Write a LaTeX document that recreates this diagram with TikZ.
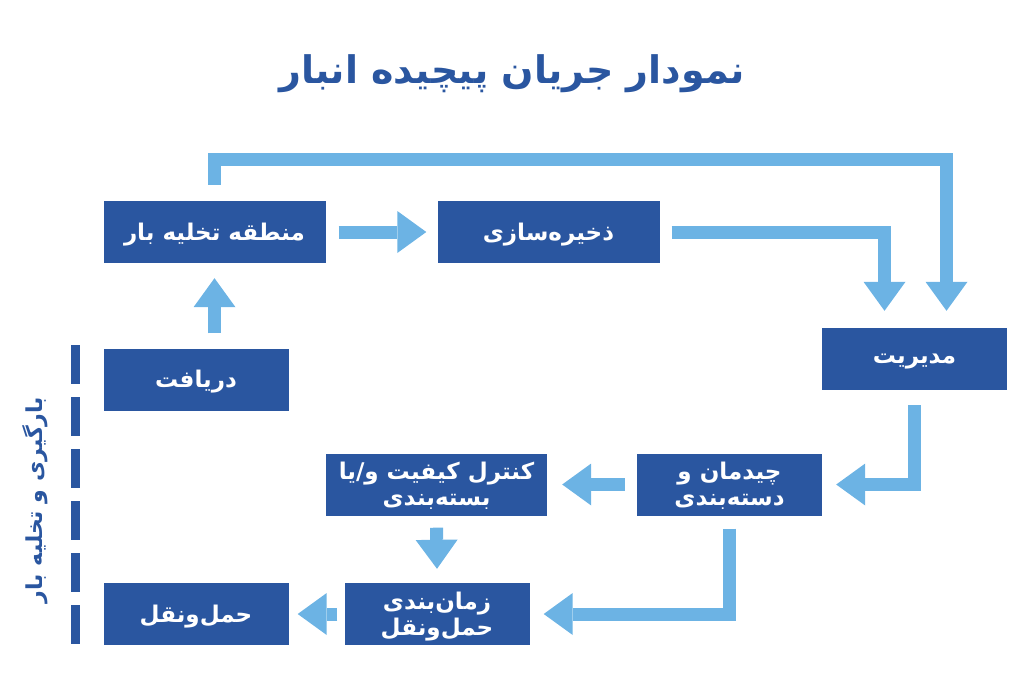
\documentclass[tikz,border=0pt]{standalone}
\usepackage{fontspec}
\newfontfamily\farsi[Script=Arabic]{DejaVu Sans}
\TeXXeTstate=1
\usetikzlibrary{arrows.meta,calc,positioning}
\definecolor{boxblue}{HTML}{2A56A0}
\definecolor{flowblue}{HTML}{6CB3E4}
\tikzset{
  stage/.style={fill=boxblue, text=white, inner sep=0pt, minimum height=62pt,
    font=\farsi\bfseries\fontsize{23}{26}\selectfont, align=center, text depth=1pt},
  wide/.style={stage, minimum width=222pt},
  narrow/.style={stage, minimum width=185pt},
  flow/.style={draw=flowblue, line width=13pt,
    -{Triangle[width=42pt,length=29pt,line width=0pt]}},
}
\begin{document}
\begin{tikzpicture}[x=1pt,y=-1pt]
\useasboundingbox (0,0) rectangle (1024,699);
\node[anchor=base, text=boxblue, font=\farsi\bfseries\fontsize{38}{44}\selectfont] (title) at (512,83) {\beginR نمودار جریان پیچیده انبار\endR};
% stages
\node[wide] (unload) at (214.5,232) {\beginR منطقه تخلیه بار\endR};
\node[wide] (storage) at (548.5,232) {\beginR ذخیره‌سازی\endR};
\node[narrow] (manage) at (914.5,359) {\beginR مدیریت\endR};
\node[narrow] (receive) at (196,379.5) {\beginR دریافت\endR};
\node[narrow] (sort) at (729.5,484.5) {\beginR چیدمان و\endR\\\beginR دسته‌بندی\endR};
\node[wide, minimum width=221pt] (qc) at (436.5,484.5) {\beginR کنترل کیفیت و/یا\endR\\\beginR بسته‌بندی\endR};
\node[narrow] (sched) at (437,614) {\beginR زمان‌بندی\endR\\\beginR حمل‌ونقل\endR};
\node[narrow] (ship) at (196,614) {\beginR حمل‌ونقل\endR};
% flows
\draw[flow] ($(unload.south |- receive.north)+(0,-15)$) -- ([yshift=-15pt]unload.south);
\draw[flow] ([xshift=13pt]unload.east) -- ([xshift=-11pt]storage.west);
\draw[flow] ([xshift=12pt]storage.east) -| ([xshift=-30pt,yshift=17pt]manage.north);
\draw[flow] ([yshift=16pt]unload.north) -- ++(0,-25.5) -| ([xshift=32pt,yshift=17pt]manage.north);
\draw[flow] ([yshift=-15pt]manage.south) |- ([xshift=14pt]sort.east);
\draw[flow] ([xshift=-12pt]sort.west) -- ([xshift=15pt]qc.east);
\draw[flow] ([yshift=-12pt]qc.south) -- ([yshift=14pt]sched.north);
\draw[flow] ([yshift=-13pt]sort.south) |- ([xshift=14pt]sched.east);
\draw[flow] ([xshift=-7pt]sched.west) -- ([xshift=9pt]ship.east);
% loading side
\draw[boxblue, line width=9pt, dash pattern=on 39pt off 13pt] (75.5,345) -- (75.5,646);
\node[rotate=90, text=boxblue, font=\farsi\bfseries\fontsize{22}{26}\selectfont] (side) at (35,500) {\beginR بارگیری و تخلیه بار\endR};
\end{tikzpicture}
\end{document}
